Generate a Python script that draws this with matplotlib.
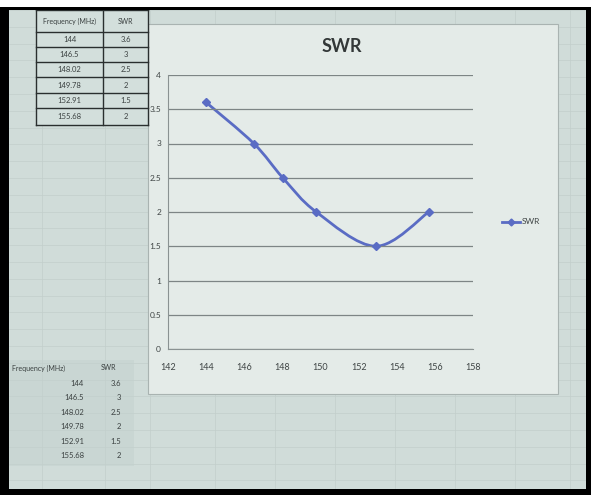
# SWR vs frequency - photo of an Excel sheet, redrawn flat
import numpy as np
import matplotlib.pyplot as plt
from matplotlib.path import Path
from matplotlib.patches import PathPatch, Rectangle

plt.rcParams['font.family'] = ['Lato', 'DejaVu Sans']

# data (from the sheet)
freq = [144, 146.5, 148.02, 149.78, 152.91, 155.68]
swr = [3.6, 3, 2.5, 2, 1.5, 2]
freq_labels = ['144', '146.5', '148.02', '149.78', '152.91', '155.68']
swr_labels = ['3.6', '3', '2.5', '2', '1.5', '2']
x_ticks = [142, 144, 146, 148, 150, 152, 154, 156, 158]
y_ticks = [0, 0.5, 1, 1.5, 2, 2.5, 3, 3.5, 4]

W, H = 591, 495
fig = plt.figure(figsize=(W / 100, H / 100), dpi=100)
fig.patch.set_facecolor('white')

# background sheet, pixel coordinates
bg = fig.add_axes([0, 0, 1, 1])
bg.set_xlim(0, W)
bg.set_ylim(H, 0)
bg.axis('off')
bg.add_patch(Rectangle((9, 9), 577, 480, facecolor='#d0dcd9', edgecolor='none', zorder=0))

# faint spreadsheet cells
for yy in np.arange(10, 490, 16.8):
    bg.plot([9, 586], [yy, yy], color='#c3cfcc', lw=0.5, zorder=1)
for xx in [42, 105, 150, 215, 275, 335, 395, 455, 515, 570]:
    bg.plot([xx, xx], [9, 489], color='#c3cfcc', lw=0.5, zorder=1)

# lower table, no borders
bg.add_patch(Rectangle((9, 360), 125, 106, facecolor='#c9d6d3', edgecolor='none', zorder=0.5))
bg.text(12, 368, 'Frequency (MHz)', fontsize=5, ha='left', va='center', color='#3a4040')
bg.text(108, 368, 'SWR', fontsize=5, ha='center', va='center', color='#3a4040')
for i in range(len(freq)):
    yc = 383 + i * 14.6
    bg.text(84, yc, freq_labels[i], fontsize=5.5, ha='right', va='center', color='#3a4040')
    bg.text(121, yc, swr_labels[i], fontsize=5.5, ha='right', va='center', color='#3a4040')

# chart panel (covers the sheet cells)
bg.add_patch(Rectangle((148, 24), 410, 370, facecolor='#e4ebe8', edgecolor='#a9b3b1', lw=0.8, zorder=3))
bg.text(342, 47, 'SWR', fontsize=13, fontweight='bold', ha='center', va='center', color='#333838', zorder=4)

# upper table with borders (sits at the left edge of the chart)
rows_y = [10, 32, 47, 62, 77, 93, 108, 125]
tx0, tx1, tx2 = 36, 103, 148
bg.add_patch(Rectangle((tx0, 10), tx2 - tx0, 115, facecolor='#d3dfdc', edgecolor='none', zorder=4))
for yy in rows_y:
    bg.plot([tx0, tx2], [yy, yy], color='#2a2f2f', lw=1.0, zorder=5)
for xx in [tx0, tx1, tx2]:
    bg.plot([xx, xx], [10, 125], color='#2a2f2f', lw=1.0, zorder=5)
bg.text((tx0 + tx1) / 2, 21, 'Frequency (MHz)', fontsize=5, ha='center', va='center', color='#3a4040', zorder=6)
bg.text((tx1 + tx2) / 2, 21, 'SWR', fontsize=5, ha='center', va='center', color='#3a4040', zorder=6)
for i in range(len(freq)):
    yc = (rows_y[i + 1] + rows_y[i + 2]) / 2
    bg.text((tx0 + tx1) / 2, yc, freq_labels[i], fontsize=5.5, ha='center', va='center', color='#3a4040', zorder=6)
    bg.text((tx1 + tx2) / 2, yc, swr_labels[i], fontsize=5.5, ha='center', va='center', color='#3a4040', zorder=6)

# black frame of the photo
bg.add_patch(Rectangle((0, 7), 9, 488, facecolor='black', zorder=7))
bg.add_patch(Rectangle((0, 7), 591, 3, facecolor='black', zorder=7))
bg.add_patch(Rectangle((586, 7), 5, 488, facecolor='black', zorder=7))
bg.add_patch(Rectangle((0, 489), 591, 6, facecolor='black', zorder=7))

# plot area
ax = fig.add_axes([168 / W, 1 - 349 / H, 305 / W, 274 / H])
ax.set_facecolor('none')
ax.set_xlim(142, 158)
ax.set_ylim(0, 4)
ax.set_xticks(x_ticks)
ax.set_yticks(y_ticks)
ax.set_xticklabels([str(t) for t in x_ticks])
ax.set_yticklabels(['0', '0.5', '1', '1.5', '2', '2.5', '3', '3.5', '4'])
ax.tick_params(axis='y', length=0, labelsize=6, colors='#3f4545', pad=5)
ax.tick_params(axis='x', length=0, labelsize=6.5, colors='#3f4545', pad=10)
ax.grid(axis='y', color='#7d8585', lw=0.9)
for s in ['top', 'right']:
    ax.spines[s].set_visible(False)
for s in ['left', 'bottom']:
    ax.spines[s].set_color('#8a9292')
    ax.spines[s].set_linewidth(0.8)

# smoothed line like Excel's, as Bezier segments through the points
pts = np.column_stack([freq, swr])
verts = [tuple(pts[0])]
codes = [Path.MOVETO]
n = len(pts)
for i in range(n - 1):
    p0 = pts[i - 1] if i > 0 else pts[i]
    p1 = pts[i]
    p2 = pts[i + 1]
    p3 = pts[i + 2] if i + 2 < n else pts[i + 1]
    c1 = p1 + (p2 - p0) / 6
    c2 = p2 - (p3 - p1) / 6
    verts += [tuple(c1), tuple(c2), tuple(p2)]
    codes += [Path.CURVE4] * 3
line_color = '#5a6cc4'
ax.add_patch(PathPatch(Path(verts, codes), facecolor='none', edgecolor=line_color, lw=2))
ax.plot(freq, swr, linestyle='none', marker='D', markersize=4.5, color=line_color, label='SWR')

# legend at right of the panel
leg_line, = ax.plot([], [], color=line_color, lw=2, marker='D', markersize=3.5)
fig.legend([leg_line], ['SWR'], loc='center left', bbox_to_anchor=(494 / W, 1 - 222 / H),
           frameon=False, fontsize=6, handlelength=2.2, handletextpad=0.2, labelcolor='#3f4545')

fig.savefig('out.png', dpi=100)
